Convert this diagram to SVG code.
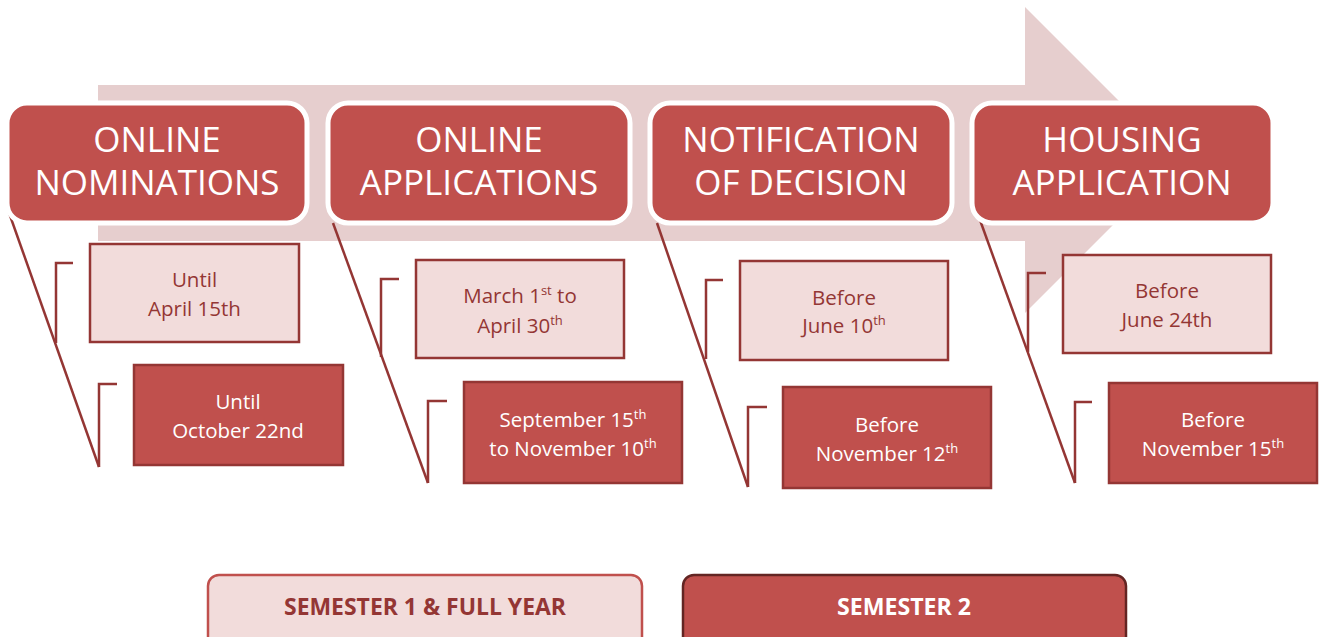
<svg xmlns="http://www.w3.org/2000/svg" width="1320" height="637" viewBox="0 0 1320 637">
<style>
.hdr{fill:#C0504D;stroke:#FFFFFF;stroke-width:5}
.ht{font-family:"Open Sans","Liberation Sans",sans-serif;font-size:35px;fill:#FFFFFF;text-anchor:middle}
.lb{fill:#F2DCDB;stroke:#943634;stroke-width:2.5}
.db{fill:#C0504D;stroke:#943634;stroke-width:2.5}
.lt{font-family:"Open Sans","Liberation Sans",sans-serif;font-size:20.5px;fill:#943634;text-anchor:middle}
.dt{font-family:"Open Sans","Liberation Sans",sans-serif;font-size:20.5px;fill:#FFFFFF;text-anchor:middle}
.sup{font-size:13px}
.con{fill:none;stroke:#943634;stroke-width:2.5}
.leg{font-family:"Open Sans","Liberation Sans",sans-serif;font-size:23px;font-weight:700;text-anchor:middle}
</style>
<polygon id="bg-arrow" points="98,85 1025,85 1025,7 1178,160 1025,313 1025,241 98,241" fill="#E6CECE"/>

<g id="connectors">
<path class="con" d="M7,207 L99,467"/>
<path class="con" d="M73,263 H56 V343"/>
<path class="con" d="M117,384 H99 V467"/>
<path class="con" d="M333,223 L428,483"/>
<path class="con" d="M399,279 H381 V357"/>
<path class="con" d="M447,401 H428 V483"/>
<path class="con" d="M657,223 L748,487"/>
<path class="con" d="M723,280 H706 V359"/>
<path class="con" d="M767,407 H748 V487"/>
<path class="con" d="M980,220 L1075,483"/>
<path class="con" d="M1046,273 H1028 V352"/>
<path class="con" d="M1092,402 H1075 V483"/>
</g>

<g id="node-online-nominations">
<rect class="hdr" x="7" y="103" width="300" height="120" rx="20"/>
<text class="ht" x="157" y="152">ONLINE</text>
<text class="ht" x="157" y="195">NOMINATIONS</text>
</g>
<g id="node-online-applications">
<rect class="hdr" x="328" y="103" width="302" height="120" rx="20"/>
<text class="ht" x="479" y="152">ONLINE</text>
<text class="ht" x="479" y="195">APPLICATIONS</text>
</g>
<g id="node-notification">
<rect class="hdr" x="650" y="103" width="302" height="120" rx="20"/>
<text class="ht" x="801" y="152">NOTIFICATION</text>
<text class="ht" x="801" y="195">OF DECISION</text>
</g>
<g id="node-housing">
<rect class="hdr" x="972" y="103" width="301" height="120" rx="20"/>
<text class="ht" x="1122" y="152">HOUSING</text>
<text class="ht" x="1122" y="195">APPLICATION</text>
</g>

<g id="date-1a">
<rect class="lb" x="90" y="244" width="209" height="98"/>
<text class="lt" x="194.5" y="287">Until</text>
<text class="lt" x="194.5" y="316">April 15th</text>
</g>
<g id="date-1b">
<rect class="db" x="134" y="365" width="209" height="100"/>
<text class="dt" x="238" y="409">Until</text>
<text class="dt" x="238" y="438">October 22nd</text>
</g>
<g id="date-2a">
<rect class="lb" x="416" y="260" width="208" height="98"/>
<text class="lt" x="520" y="303">March 1<tspan class="sup" dy="-8">st</tspan><tspan dy="8"> to</tspan></text>
<text class="lt" x="520" y="333">April 30<tspan class="sup" dy="-8">th</tspan></text>
</g>
<g id="date-2b">
<rect class="db" x="464" y="382" width="218" height="101"/>
<text class="dt" x="573" y="427">September 15<tspan class="sup" dy="-8">th</tspan></text>
<text class="dt" x="573" y="456">to November 10<tspan class="sup" dy="-8">th</tspan></text>
</g>
<g id="date-3a">
<rect class="lb" x="740" y="261" width="208" height="99"/>
<text class="lt" x="844" y="305">Before</text>
<text class="lt" x="844" y="333">June 10<tspan class="sup" dy="-8">th</tspan></text>
</g>
<g id="date-3b">
<rect class="db" x="783" y="387" width="208" height="101"/>
<text class="dt" x="887" y="432">Before</text>
<text class="dt" x="887" y="461">November 12<tspan class="sup" dy="-8">th</tspan></text>
</g>
<g id="date-4a">
<rect class="lb" x="1063" y="255" width="208" height="98"/>
<text class="lt" x="1167" y="298">Before</text>
<text class="lt" x="1167" y="327">June 24th</text>
</g>
<g id="date-4b">
<rect class="db" x="1109" y="383" width="208" height="100"/>
<text class="dt" x="1213" y="427">Before</text>
<text class="dt" x="1213" y="456">November 15<tspan class="sup" dy="-8">th</tspan></text>
</g>

<g id="legend-sem1">
<rect x="208" y="575" width="434" height="75" rx="11" fill="#F2DCDB" stroke="#C0504D" stroke-width="2.5"/>
<text class="leg" x="425" y="615" fill="#943634" textLength="282" lengthAdjust="spacingAndGlyphs">SEMESTER 1 &amp; FULL YEAR</text>
</g>
<g id="legend-sem2">
<rect x="683" y="575" width="443" height="75" rx="11" fill="#C0504D" stroke="#632523" stroke-width="2.5"/>
<text class="leg" x="904" y="615" fill="#FFFFFF" textLength="134" lengthAdjust="spacingAndGlyphs">SEMESTER 2</text>
</g>
</svg>
